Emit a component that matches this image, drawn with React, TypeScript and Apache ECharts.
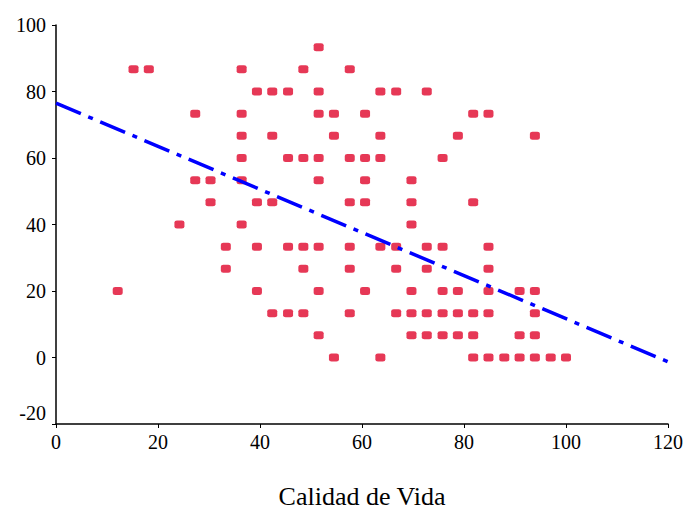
import React, { useEffect, useRef } from "react";
import * as echarts from "echarts";

// x values (Calidad de Vida) of the points on each y level
const xAt93 = [51.5];
const xAt87 = [15.2, 18.2, 36.4, 48.5, 57.6];
const xAt80 = [39.4, 42.4, 45.5, 51.5, 63.6, 66.7, 72.7];
const xAt73 = [27.3, 36.4, 51.5, 54.5, 60.6, 81.8, 84.8];
const xAt67 = [36.4, 42.4, 54.5, 63.6, 78.8, 93.9];
const xAt60 = [36.4, 45.5, 48.5, 51.5, 57.6, 60.6, 63.6, 75.8];
const xAt53 = [27.3, 30.3, 36.4, 51.5, 60.6, 69.7];
const xAt47 = [30.3, 39.4, 42.4, 57.6, 60.6, 69.7, 81.8];
const xAt40 = [24.2, 36.4, 69.7];
const xAt33 = [33.3, 39.4, 45.5, 48.5, 51.5, 57.6, 63.6, 66.7, 72.7, 75.8, 84.8];
const xAt27 = [33.3, 48.5, 57.6, 66.7, 72.7, 84.8];
const xAt20 = [12.1, 39.4, 51.5, 60.6, 69.7, 75.8, 78.8, 84.8, 90.9, 93.9];
const xAt13 = [42.4, 45.5, 48.5, 57.6, 66.7, 69.7, 72.7, 75.8, 78.8, 81.8, 84.8, 93.9];
const xAt7 = [51.5, 69.7, 72.7, 75.8, 78.8, 81.8, 90.9, 93.9];
const xAt0 = [54.5, 63.6, 81.8, 84.8, 87.9, 90.9, 93.9, 97.0, 100];

const yLevels = [93.3, 86.7, 80, 73.3, 66.7, 60, 53.3, 46.7, 40, 33.3, 26.7, 20, 13.3, 6.7, 0];
const xRows = [xAt93, xAt87, xAt80, xAt73, xAt67, xAt60, xAt53, xAt47, xAt40, xAt33, xAt27, xAt20, xAt13, xAt7, xAt0];

// regression line end points
const lineX = [0, 120];
const lineY = [76.5, -1.3];

const xTicks = { min: 0, max: 120, interval: 20 };
const yTicks = { min: -20, max: 100, interval: 20 };
const xTitle = "Calidad de Vida";

export default function App() {
  const ref = useRef<HTMLDivElement>(null);
  useEffect(() => {
    if (!ref.current) return;
    const chart = echarts.init(ref.current, null, { renderer: "svg" });
    const points: number[][] = [];
    xRows.forEach((row, i) => row.forEach((x) => points.push([x, yLevels[i]])));
    const font = "Liberation Serif";
    chart.setOption({
      animation: false,
      backgroundColor: "#ffffff",
      grid: {
        left: 56,
        right: 17,
        top: 25,
        bottom: 86,
        containLabel: false,
        outerBoundsMode: "none",
      },
      xAxis: {
        type: "value",
        min: xTicks.min,
        max: xTicks.max,
        interval: xTicks.interval,
        name: xTitle,
        nameLocation: "middle",
        nameGap: 59,
        nameTextStyle: { fontFamily: font, fontSize: 26, color: "#000" },
        axisLine: { onZero: false, lineStyle: { color: "#000", width: 1.5 } },
        axisTick: { show: true, length: 4, lineStyle: { color: "#000" } },
        axisLabel: { fontFamily: font, fontSize: 20, color: "#000", margin: 8 },
        splitLine: { show: false },
      },
      yAxis: {
        type: "value",
        min: yTicks.min,
        max: yTicks.max,
        interval: yTicks.interval,
        axisLine: { show: true, onZero: false, lineStyle: { color: "#000", width: 1.5 } },
        axisTick: { show: true, length: 4, lineStyle: { color: "#000" } },
        axisLabel: {
          fontFamily: font,
          fontSize: 20,
          color: "#000",
          margin: 10,
          formatter: (v: number) => (v === -20 ? "{lo|-20}" : String(v)),
          rich: { lo: { fontFamily: font, fontSize: 20, color: "#000", padding: [0, 0, 22, 0] } },
        },
        splitLine: { show: false },
      },
      series: [
        {
          type: "line",
          data: lineX.map((x, i) => [x, lineY[i]]),
          showSymbol: false,
          symbol: "none",
          lineStyle: { color: "#0000ff", width: 3.5, type: [27, 8, 5, 8] },
          z: 3,
        },
        {
          type: "scatter",
          data: points,
          symbol: "roundRect",
          symbolSize: [10, 8],
          itemStyle: { color: "#e0062c" },
          z: 2,
        },
      ],
    });
    return () => chart.dispose();
  }, []);
  return (
    <div
      ref={ref}
      style={{ position: "fixed", left: 0, top: 0, width: 685, height: 510, background: "#fff" }}
    />
  );
}
